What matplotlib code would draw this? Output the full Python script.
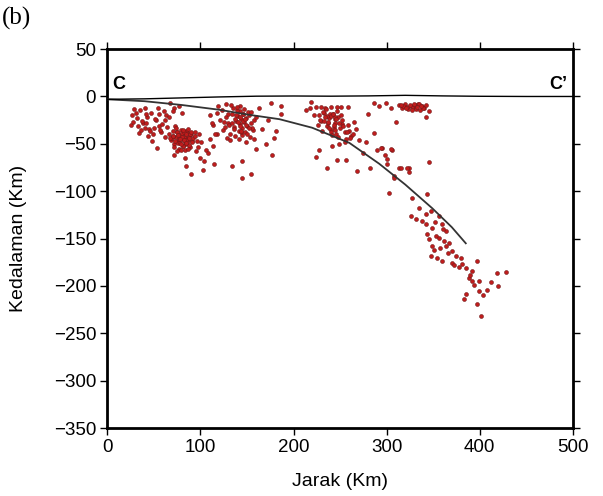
import matplotlib
matplotlib.use("Agg")
import matplotlib.pyplot as plt

# ---- data ----
x_ticks = [0, 100, 200, 300, 400, 500]
y_ticks = [50, 0, -50, -100, -150, -200, -250, -300, -350]

# slab interface line (km, depth)
slab_x = [0, 40, 80, 120, 150, 185, 220, 260, 292, 320, 349, 370, 385]
slab_d = [-3, -5, -9, -14, -19, -24, -33, -49, -71, -93, -118, -138, -155]

# topography line
topo_x = [0, 40, 80, 120, 160, 200, 240, 280, 320, 360, 400, 450, 500]
topo_d = [-3, -2.5, -1.5, -0.5, 0.3, 0.5, 0.3, 0.6, 1.2, 0.6, 0.2, 0.0, 0.0]

# earthquake hypocentres: distance (km)
eq_x = [
    # western scattered
    29, 31, 40, 47, 32, 38, 43, 34, 48, 53, 40, 45, 50, 56, 59, 54, 67, 72, 77,
    61, 70, 80, 27, 36, 25, 44, 58, 63, 52, 42,
    33, 37, 46, 51, 55, 28, 41, 57, 62, 49, 35, 66,
    # dense blob near 80 km
    66, 68, 70, 72, 74, 75, 76, 77, 78, 79, 80, 81, 82, 83, 84, 85, 86, 87, 88,
    89, 90, 91, 73, 76, 79, 82, 85, 88, 71, 74, 77, 80, 83, 86, 89, 69, 75, 81,
    84, 87, 78, 80, 82, 64, 92, 94,
    67, 70, 73, 76, 79, 82, 85, 88, 91, 94, 72, 78, 84, 90, 75, 81, 87, 62, 96, 98,
    # scattered below / around
    72, 83, 85, 90, 99, 104, 106, 115, 97, 101, 110, 103, 108, 113, 118, 95,
    # cluster near 140 km
    110, 114, 118, 121, 124, 127, 130, 132, 134, 136, 138, 140, 141, 142, 143,
    144, 145, 146, 147, 148, 149, 150, 152, 154, 156, 158, 135, 139, 143, 147,
    151, 128, 132, 137, 141, 145, 149, 153, 125, 131, 136, 144, 150, 155, 160,
    119, 123, 127, 133, 139, 116, 112, 157,
    137, 140, 143, 146, 149, 138, 142, 146, 134, 148, 152, 130, 126, 154, 144,
    # scattered 130-190
    134, 145, 145, 154, 177, 163, 176, 187, 187, 181, 179, 166, 170, 160, 173,
    # cluster near 240 km
    213, 219, 224, 229, 234, 240, 247, 251, 259, 227, 230, 233, 236, 238, 240,
    242, 244, 246, 248, 250, 252, 255, 258, 262, 265, 267, 232, 236, 240, 244,
    248, 252, 256, 260, 235, 239, 243, 247, 251, 255, 228, 231, 237, 241, 245,
    249, 218, 222, 264, 270,
    234, 237, 240, 243, 246, 249, 238, 242, 245, 233, 253, 257, 226, 261, 241,
    # scattered below cluster
    227, 224, 247, 256, 236, 268, 282, 286, 290, 295, 306, 300, 275, 278,
    # shallow cluster near 330 km
    286, 292, 299, 313, 317, 320, 323, 326, 328, 330, 332, 334, 336, 338, 340,
    342, 322, 327, 331, 335, 339, 318, 310, 342, 345, 305, 280,
    325, 329, 333, 337, 321, 315,
    # slab band
    294, 305, 298, 300, 313, 324, 324, 308, 315, 322, 345, 308, 303, 327, 343,
    326, 342, 348, 356, 332, 342, 349, 359, 364, 343, 353, 356, 362, 367, 364,
    370, 349, 348, 354, 359, 370, 381, 385, 397, 392, 388, 392, 399, 408, 399,
    418, 385, 383, 397, 401, 338, 335, 352, 360, 375, 378, 390, 366, 372, 345,
    351, 357, 380, 394, 404, 420, 412, 428,
]
# earthquake hypocentres: depth (km)
eq_d = [
    -13, -17, -12, -17, -23, -28, -22, -39, -47, -54, -33, -34, -33, -31, -29,
    -12, -7, -12, -10, -15, -15, -17, -20, -35, -30, -42, -38, -20, -25, -28,
    -31, -26, -36, -24, -19, -27, -18, -35, -25, -40, -14, -22,
    # dense blob
    -40, -46, -36, -50, -43, -38, -47, -55, -41, -35, -45, -52, -39, -48, -44,
    -50, -37, -46, -42, -53, -40, -47, -31, -49, -56, -43, -36, -51, -42, -33,
    -45, -39, -57, -48, -40, -44, -37, -52, -46, -34, -49, -43, -38, -32, -44,
    -38,
    -44, -42, -47, -41, -50, -46, -40, -44, -48, -42, -53, -45, -49, -37, -58,
    -35, -55, -43, -47, -40,
    # scattered below
    -62, -65, -73, -82, -65, -68, -57, -71, -53, -48, -45, -78, -60, -52, -40,
    -58,
    # cluster near 140
    -20, -30, -17, -25, -35, -22, -28, -40, -18, -32, -26, -21, -36, -29, -15,
    -24, -33, -19, -27, -38, -23, -31, -20, -28, -35, -25, -12, -14, -10, -13,
    -16, -44, -46, -42, -45, -41, -48, -43, -27, -30, -34, -37, -40, -33, -22,
    -10, -14, -8, -9, -11, -40, -28, -45,
    -24, -27, -22, -26, -30, -20, -31, -18, -28, -24, -33, -19, -32, -16, -36,
    # scattered 130-190
    -73, -68, -86, -82, -62, -12, -7, -10, -18, -36, -44, -34, -50, -55, -25,
    # cluster near 240
    -14, -6, -11, -11, -12, -11, -11, -11, -11, -20, -26, -17, -31, -23, -35,
    -19, -28, -40, -22, -33, -25, -37, -30, -42, -27, -34, -16, -21, -38, -24,
    -43, -29, -45, -36, -13, -18, -32, -15, -20, -48, -25, -36, -28, -41, -22,
    -50, -12, -20, -40, -46,
    -22, -27, -21, -30, -24, -28, -33, -19, -35, -26, -31, -38, -30, -44, -52,
    # scattered below cluster
    -57, -64, -67, -67, -76, -79, -76, -39, -57, -54, -56, -71, -60, -48,
    # shallow cluster near 330
    -7, -10, -7, -9, -12, -8, -13, -10, -11, -9, -12, -8, -14, -10, -12, -9,
    -11, -14, -13, -8, -12, -10, -27, -22, -15, -12, -18,
    -9, -8, -11, -10, -12, -9,
    # slab band
    -54, -55, -62, -66, -76, -75, -80, -84, -76, -75, -69, -86, -102, -107, -103,
    -126, -124, -121, -126, -129, -135, -139, -135, -142, -145, -147, -149, -153,
    -155, -158, -163, -158, -168, -171, -174, -176, -177, -181, -174, -184, -192,
    -195, -195, -204, -205, -186, -209, -214, -219, -232, -131, -118, -133, -140,
    -168, -180, -188, -165, -178, -150, -162, -160, -170, -199, -210, -200, -196,
    -185,
]

# ---- figure ----
fig = plt.figure(figsize=(6.03, 4.96), dpi=100)
ax = fig.add_axes([0.178, 0.137, 0.772, 0.764])

sans = ['Liberation Sans Narrow', 'Liberation Sans', 'DejaVu Sans']

ax.scatter(eq_x, eq_d, s=8, facecolor='#c01c1c', edgecolor='#701818',
           linewidths=0.4, zorder=3)
ax.plot(slab_x, slab_d, color='#333333', lw=1.3, zorder=4)
ax.plot(topo_x, topo_d, color='black', lw=1.0, zorder=4)

ax.set_xlim(0, 500)
ax.set_ylim(-350, 50)
ax.set_xticks(x_ticks)
ax.set_yticks(y_ticks)
ax.set_xticklabels([str(v) for v in x_ticks], family=sans, fontsize=13.5)
ax.set_yticklabels([str(v).replace('-', '\u2212') for v in y_ticks], family=sans, fontsize=13.5)
ax.tick_params(direction='out', length=5, width=1.0, top=True, right=True,
               labeltop=False, labelright=False, pad=3)
for sp in ax.spines.values():
    sp.set_linewidth(2.0)

ax.set_xlabel('Jarak (Km)', family=sans, fontsize=14, labelpad=12)
ax.set_ylabel('Kedalaman (Km)', family=sans, fontsize=14, labelpad=19)

ax.text(5, 4, 'C', family=['Liberation Sans', 'DejaVu Sans'], fontweight='bold',
        fontsize=13, ha='left', va='bottom')
ax.text(494, 4, "C\u2019", family=['Liberation Sans', 'DejaVu Sans'], fontweight='bold',
        fontsize=13, ha='right', va='bottom')

fig.text(0.003, 0.962, '(b)', family=['Liberation Serif', 'DejaVu Serif'],
         fontsize=18, ha='left', va='center')
fig.text(0.45, 1.018, 'Jarak (Km)', family=sans, fontsize=13, ha='center', va='center')

fig.savefig('out.png', dpi=100)
